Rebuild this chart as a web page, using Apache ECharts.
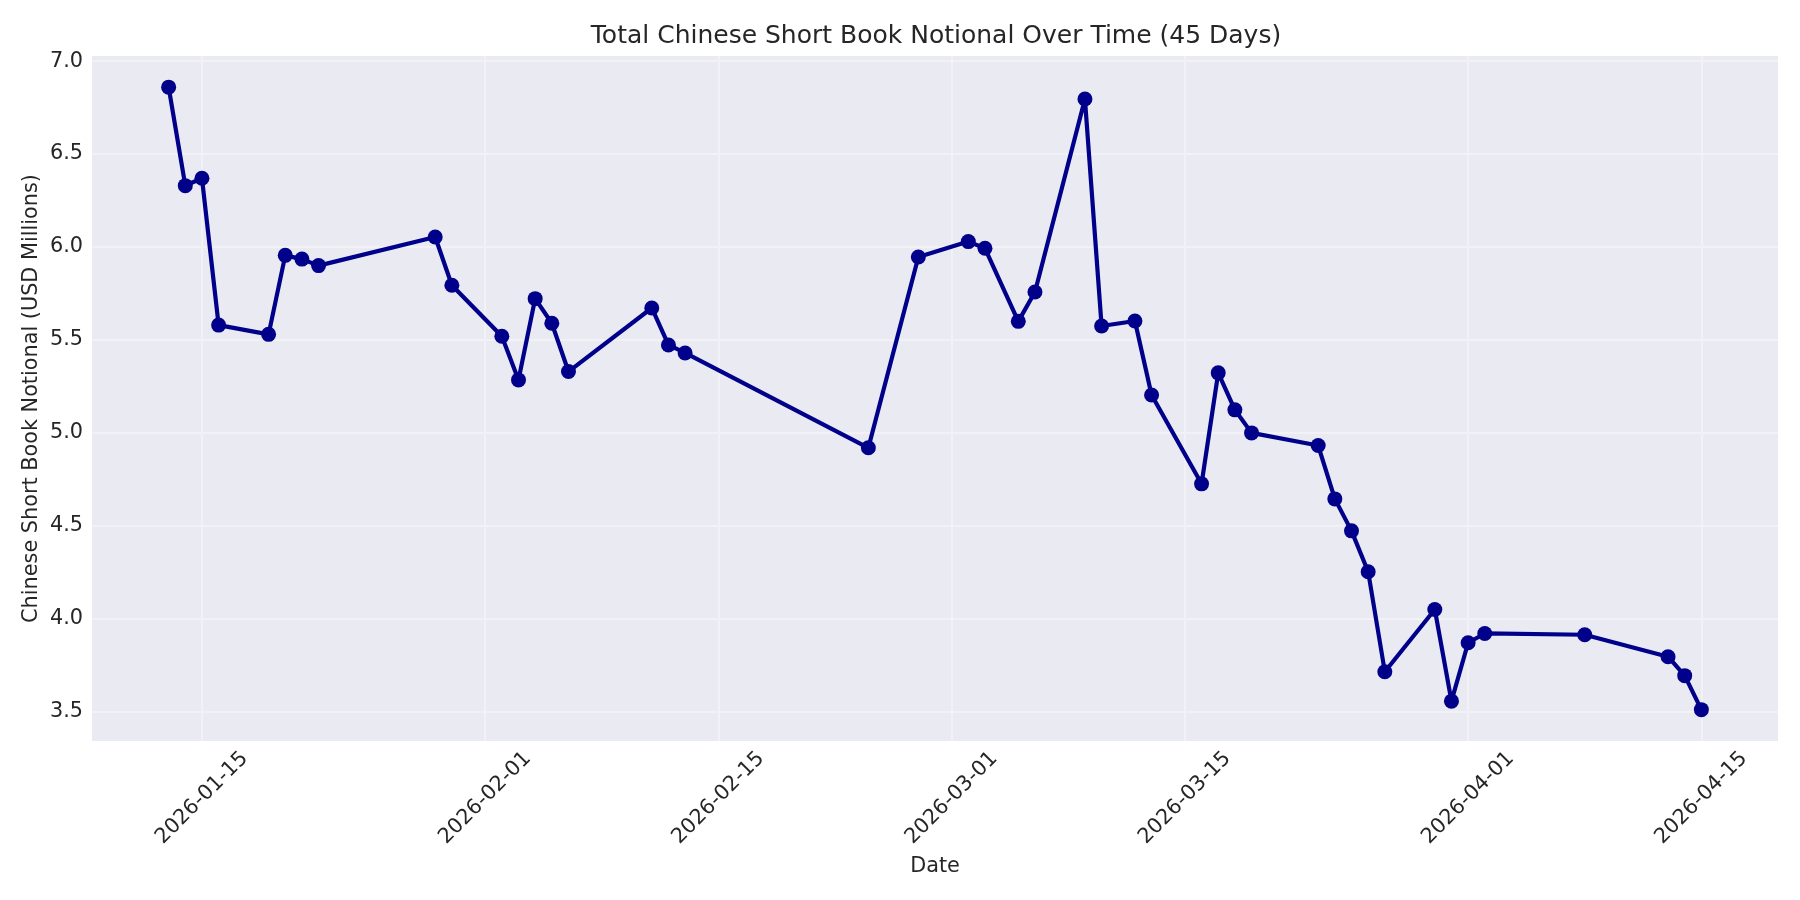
<!DOCTYPE html>
<html>
<head>
<meta charset="utf-8">
<script src="https://cdn.jsdelivr.net/npm/echarts@6/dist/echarts.min.js"></script>
<style>
html,body{margin:0;padding:0;background:#fff;}
#chart{width:1800px;height:900px;}
</style>
</head>
<body>
<div id="chart"></div>
<script>
const dates = ['2026-01-13','2026-01-14','2026-01-15','2026-01-16','2026-01-19','2026-01-20','2026-01-21','2026-01-22','2026-01-29','2026-01-30',
  '2026-02-02','2026-02-03','2026-02-04','2026-02-05','2026-02-06','2026-02-11','2026-02-12','2026-02-13','2026-02-24','2026-02-27',
  '2026-03-02','2026-03-03','2026-03-05','2026-03-06','2026-03-09','2026-03-10','2026-03-12','2026-03-13','2026-03-16','2026-03-17',
  '2026-03-18','2026-03-19','2026-03-23','2026-03-24','2026-03-25','2026-03-26','2026-03-27','2026-03-30','2026-03-31',
  '2026-04-01','2026-04-02','2026-04-08','2026-04-13','2026-04-14','2026-04-15'];
const notional = [6.86,6.33,6.37,5.58,5.53,5.955,5.935,5.90,6.054,5.794,
  5.52,5.285,5.722,5.59,5.33,5.672,5.473,5.43,4.92,5.946,
  6.029,5.993,5.60,5.758,6.796,5.575,5.602,5.204,4.726,5.323,
  5.124,5.0,4.932,4.645,4.473,4.253,3.715,4.05,3.557,
  3.871,3.921,3.914,3.796,3.694,3.511];
const xTickLabels = ['2026-01-15','2026-02-01','2026-02-15','2026-03-01','2026-03-15','2026-04-01','2026-04-15'];
const yTickLabels = [3.5,4.0,4.5,5.0,5.5,6.0,6.5,7.0];

const DAY = 86400000;
function ts(s){ const p = s.split('-').map(Number); return Date.UTC(p[0], p[1]-1, p[2]); }
function fmt(v){ const d = new Date(v); const m = d.getUTCMonth()+1, dd = d.getUTCDate();
  return d.getUTCFullYear() + '-' + (m<10?'0':'') + m + '-' + (dd<10?'0':'') + dd; }

const xMin = ts('2026-01-08') + 0.4*DAY;
const xMax = ts('2026-04-19') + 0.6*DAY;
const xTicks = xTickLabels.map(ts);

const FONT = 'DejaVu Sans';
const TXT = '#262626';
const GRIDC = '#F1F1F6';

const chart = echarts.init(document.getElementById('chart'));
chart.setOption({
  animation: false,
  backgroundColor: '#ffffff',
  title: {
    text: 'Total Chinese Short Book Notional Over Time (45 Days)',
    left: 931, top: 19, textAlign: 'center',
    textStyle: {fontFamily: FONT, fontSize: 25, fontWeight: 'normal', color: TXT}
  },
  grid: {left: 92, right: 22, top: 56, bottom: 159, containLabel: false, outerBoundsMode: 'none',
    show: true, backgroundColor: '#EAEAF2', borderWidth: 0},
  xAxis: {
    type: 'value', min: xMin, max: xMax, scale: true,
    name: 'Date', nameLocation: 'middle', nameGap: 115, nameMoveOverlap: false,
    nameTextStyle: {fontFamily: FONT, fontSize: 20.8, color: TXT},
    axisLine: {show: false},
    axisTick: {show: false, customValues: xTicks},
    axisLabel: {customValues: xTicks, formatter: v => fmt(v), rotate: 45, align: 'center', verticalAlign: 'middle',
      margin: 57, fontFamily: FONT, fontSize: 20.8, color: TXT, hideOverlap: false},
    splitLine: {show: true, lineStyle: {color: GRIDC, width: 2}}
  },
  yAxis: {
    type: 'value', min: 3.3425, max: 7.0275, scale: true,
    name: 'Chinese Short Book Notional (USD Millions)', nameLocation: 'middle', nameGap: 50, nameMoveOverlap: false,
    nameTextStyle: {fontFamily: FONT, fontSize: 20.8, color: TXT},
    axisLine: {show: false},
    axisTick: {show: false, customValues: yTickLabels},
    axisLabel: {customValues: yTickLabels, formatter: v => v.toFixed(1), margin: 9,
      fontFamily: FONT, fontSize: 20.8, color: TXT},
    splitLine: {show: true, lineStyle: {color: GRIDC, width: 2}}
  },
  series: [{
    type: 'line',
    data: dates.map((d, i) => [ts(d), notional[i]]),
    symbol: 'circle', symbolSize: 15, showAllSymbol: true,
    lineStyle: {color: '#00008B', width: 4.2},
    itemStyle: {color: '#00008B'},
    emphasis: {disabled: true}
  }]
});
</script>
</body>
</html>
